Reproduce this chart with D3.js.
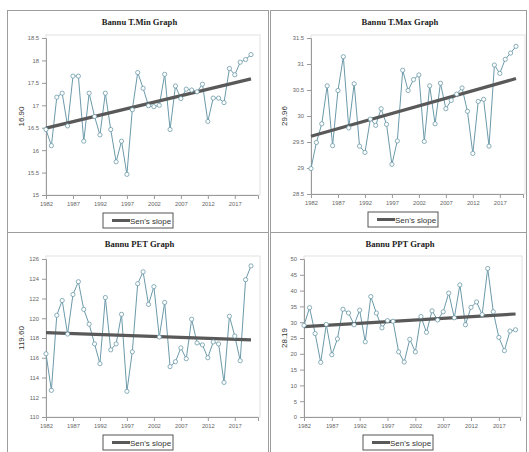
<!DOCTYPE html>
<html>
<head>
<meta charset="utf-8">
<script src="https://cdn.jsdelivr.net/npm/d3@7"></script>
<style>
  html, body { margin: 0; padding: 0; background: #fff; }
  svg { display: block; }
</style>
</head>
<body>
<svg id="chart" width="529" height="452"></svg>
<script>
// ---------- DATA ----------
const years = d3.range(1982, 2021);
const xTickYears = [1982, 1987, 1992, 1997, 2002, 2007, 2012, 2017];

const tminValues = [16.46, 16.10, 17.18, 17.27, 16.54, 17.65, 17.65, 16.20, 17.27, 16.75,
  16.34, 17.27, 16.46, 15.74, 16.20, 15.46, 16.90, 17.73, 17.38, 16.99,
  16.97, 17.00, 17.69, 16.46, 17.43, 17.15, 17.36, 17.34, 17.30, 17.47,
  16.64, 17.16, 17.16, 17.06, 17.82, 17.68, 17.96, 18.02, 18.13];
const tmaxValues = [28.99, 29.49, 29.85, 30.58, 29.43, 30.49, 31.14, 29.77, 30.62, 29.42,
  29.30, 29.94, 29.82, 30.14, 29.84, 29.07, 29.52, 30.88, 30.49, 30.70,
  30.79, 29.51, 30.58, 29.85, 30.63, 30.14, 30.30, 30.42, 30.54, 30.09,
  29.28, 30.28, 30.32, 29.42, 30.98, 30.82, 31.09, 31.21, 31.34];
const petValues = [116.4, 112.7, 120.3, 121.8, 118.4, 122.4, 123.7, 120.9, 119.4, 117.4,
  115.4, 122.1, 116.8, 117.4, 120.4, 112.6, 116.6, 123.5, 124.7, 121.4,
  123.2, 118.1, 121.6, 115.1, 115.6, 117.0, 115.9, 119.9, 117.5, 117.3,
  116.0, 117.6, 117.4, 113.5, 120.2, 118.2, 115.7, 123.9, 125.3];
const pptValues = [29.0, 34.6, 26.4, 17.3, 29.3, 19.7, 24.7, 34.1, 32.9, 29.2,
  33.8, 23.8, 38.1, 32.9, 28.2, 30.5, 30.3, 20.6, 17.4, 24.6,
  20.6, 31.8, 26.8, 33.6, 30.7, 33.3, 39.2, 31.4, 41.8, 29.2,
  34.7, 36.4, 32.4, 47.0, 33.3, 25.2, 21.0, 27.2, 27.6];

// Sen's slope trend line: values at first and last year
const tminSens = [16.49, 17.59];
const tmaxSens = [29.61, 30.72];
const petSens = [118.55, 117.81];
const pptSens = [28.6, 32.6];

const titles = ["Bannu T.Min Graph", "Bannu T.Max Graph", "Bannu PET Graph", "Bannu PPT Graph"];
const yLabels = ["16.90", "29.96", "119.60", "28.19"];
const tminTicks = [15, 15.5, 16, 16.5, 17, 17.5, 18, 18.5];
const tmaxTicks = [28.5, 29, 29.5, 30, 30.5, 31, 31.5];
const petTicks = [110, 112, 114, 116, 118, 120, 122, 124, 126];
const pptTicks = [0, 5, 10, 15, 20, 25, 30, 35, 40, 45, 50];
const legendLabel = "Sen's slope";

// ---------- LAYOUT ----------
const svg = d3.select("#chart");
const lineColor = "#6c9aaa";
const sensColor = "#595959";
const axisColor = "#9a9a9a";
const tickTextColor = "#666";

const panels = [
  { box: [7, 10, 268, 232], plot: [46, 38, 258, 195], domain: [15, 18.5], ticks: tminTicks,
    values: tminValues, sens: tminSens, title: titles[0], ylab: yLabels[0], xEnd: 2021.3 },
  { box: [270, 10, 526, 232], plot: [311, 38, 523, 194], domain: [28.5, 31.5], ticks: tmaxTicks,
    values: tmaxValues, sens: tmaxSens, title: titles[1], ylab: yLabels[1], xEnd: 2021.3 },
  { box: [7, 232, 268, 452], plot: [46, 259, 258, 417], domain: [110, 126], ticks: petTicks,
    values: petValues, sens: petSens, title: titles[2], ylab: yLabels[2], xEnd: 2021.3 },
  { box: [270, 232, 526, 452], plot: [304, 259, 520, 417], domain: [0, 50], ticks: pptTicks,
    values: pptValues, sens: pptSens, title: titles[3], ylab: yLabels[3], xEnd: 2020.8 }
];

panels.forEach(p => {
  const [bx0, by0, bx1, by1] = p.box;
  const [px0, py0, px1, py1] = p.plot;
  const g = svg.append("g");

  // panel border
  g.append("rect")
    .attr("x", bx0 + 0.5).attr("y", by0 + 0.5)
    .attr("width", bx1 - bx0).attr("height", by1 - by0)
    .attr("fill", "none").attr("stroke", "#9d9d9d").attr("stroke-width", 1);

  const x = d3.scaleLinear().domain([1982, p.xEnd]).range([px0, px1]);
  const y = d3.scaleLinear().domain(p.domain).range([py1, py0]);

  // plot frame
  g.append("rect")
    .attr("x", px0).attr("y", py0 - 3)
    .attr("width", px1 - px0 + 2).attr("height", py1 - py0 + 3)
    .attr("fill", "none").attr("stroke", "#e2e2e2").attr("stroke-width", 1);

  // y axis
  const yAxis = g.append("g")
    .attr("transform", `translate(${px0},0)`)
    .call(d3.axisLeft(y).tickValues(p.ticks).tickSize(4).tickPadding(3).tickFormat(d => String(d)));
  // x axis
  const xAxis = g.append("g")
    .attr("transform", `translate(0,${py1})`)
    .call(d3.axisBottom(x).tickValues(xTickYears).tickSize(4).tickPadding(3).tickFormat(d => String(d)));

  [yAxis, xAxis].forEach(a => {
    a.select(".domain").attr("stroke", axisColor);
    a.selectAll(".tick line").attr("stroke", axisColor);
    a.selectAll(".tick text")
      .attr("fill", tickTextColor)
      .style("font-family", "'Liberation Sans', Arial, sans-serif")
      .style("font-size", "5.8px");
  });

  // title
  g.append("text")
    .attr("x", (bx0 + bx1) / 2 + 2).attr("y", by0 + 15)
    .attr("text-anchor", "middle")
    .style("font-family", "'Liberation Serif', 'Times New Roman', serif")
    .style("font-weight", "bold")
    .style("font-size", "8.6px")
    .attr("fill", "#222")
    .text(p.title);

  // y label
  const cy = (py0 + py1) / 2;
  g.append("text")
    .attr("transform", `translate(${bx0 + 17},${cy}) rotate(-90)`)
    .attr("text-anchor", "middle")
    .style("font-family", "'Liberation Sans', Arial, sans-serif")
    .style("font-size", "8px")
    .attr("fill", "#333")
    .text(p.ylab);

  // data line
  const data = years.map((yr, i) => ({ yr, v: p.values[i] }));
  g.append("path")
    .datum(data)
    .attr("fill", "none")
    .attr("stroke", lineColor)
    .attr("stroke-width", 1)
    .attr("d", d3.line().x(d => x(d.yr)).y(d => y(d.v)));

  // Sen's slope line
  g.append("line")
    .attr("x1", x(years[0])).attr("y1", y(p.sens[0]))
    .attr("x2", x(years[years.length - 1])).attr("y2", y(p.sens[1]))
    .attr("stroke", sensColor).attr("stroke-width", 3.2);

  // markers
  g.selectAll("circle.pt")
    .data(data)
    .join("circle")
    .attr("class", "pt")
    .attr("cx", d => x(d.yr)).attr("cy", d => y(d.v))
    .attr("r", 2.1)
    .attr("fill", "#fff")
    .attr("stroke", lineColor)
    .attr("stroke-width", 0.8);

  // legend
  const lx = (px0 + px1) / 2 - 49;
  const ly = py1 + 18;
  g.append("rect")
    .attr("x", lx).attr("y", ly)
    .attr("width", 70).attr("height", 15)
    .attr("fill", "#fff").attr("stroke", "#555").attr("stroke-width", 1);
  g.append("line")
    .attr("x1", lx + 9).attr("x2", lx + 27)
    .attr("y1", ly + 7.5).attr("y2", ly + 7.5)
    .attr("stroke", sensColor).attr("stroke-width", 3);
  g.append("text")
    .attr("x", lx + 27).attr("y", ly + 10.5)
    .style("font-family", "'Liberation Sans', Arial, sans-serif")
    .style("font-size", "8px")
    .attr("fill", "#333")
    .text(legendLabel);
});
</script>
</body>
</html>
